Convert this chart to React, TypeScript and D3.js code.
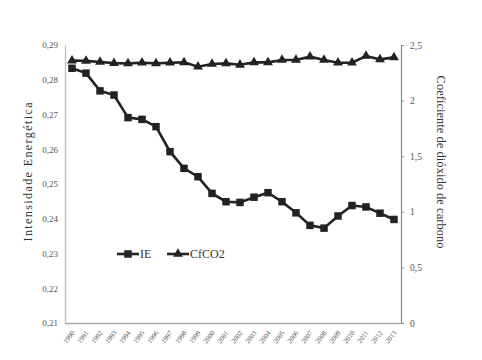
import React, { useRef, useEffect } from "react";
import * as d3 from "d3";

const years = [
  "1990", "1991", "1992", "1993", "1994", "1995", "1996", "1997", "1998", "1999", "2000", "2001",
  "2002", "2003", "2004", "2005", "2006", "2007", "2008", "2009", "2010", "2011", "2012", "2013",
];

// Intensidade Energética (left axis)
const ieValues = [
  0.2833, 0.2819, 0.2768, 0.2756, 0.2691, 0.2686, 0.2665, 0.2593, 0.2545, 0.2521, 0.2473, 0.2449,
  0.2447, 0.2462, 0.2475, 0.2449, 0.2417, 0.2381, 0.2373, 0.2408, 0.2438, 0.2434, 0.2416, 0.2398,
];

// Coeficiente de dióxido de carbono (right axis)
const co2Values = [
  2.36, 2.357, 2.347, 2.337, 2.335, 2.341, 2.335, 2.341, 2.344, 2.305, 2.329, 2.335,
  2.322, 2.344, 2.344, 2.365, 2.365, 2.395, 2.365, 2.341, 2.341, 2.401, 2.371, 2.389,
];

const leftTicks = [0.21, 0.22, 0.23, 0.24, 0.25, 0.26, 0.27, 0.28, 0.29];
const rightTicks = [0, 0.5, 1, 1.5, 2, 2.5];

const fmt = (v: number, digits: number) => v.toFixed(digits).replace(".", ",").replace(/,0$/, "");

function drawChart(el: SVGSVGElement) {
  const left = 65;
  const right = 401;
  const top = 45;
  const bottom = 323;
  const font = "'Liberation Serif', 'DejaVu Serif', serif";

  const svg = d3.select(el);
  svg.selectAll("*").remove();

  const x = d3.scaleBand().domain(years).range([left, right]);
  const cx = (d: string) => (x(d) as number) + x.bandwidth() / 2;
  const yL = d3.scaleLinear().domain([0.21, 0.29]).range([bottom, top]);
  const yR = d3.scaleLinear().domain([0, 2.5]).range([bottom, top]);

  // left axis
  const gl = svg.append("g").attr("transform", `translate(${left},0)`)
    .call(d3.axisLeft(yL).tickValues(leftTicks).tickSize(0).tickPadding(7)
      .tickFormat((d) => fmt(d as number, 2)));
  gl.select(".domain").attr("stroke", "#bdbdbd").attr("stroke-width", 1.3);
  gl.selectAll("text").attr("fill", "#555").style("font-family", font).style("font-size", "9px");

  // right axis
  const gr = svg.append("g").attr("transform", `translate(${right},0)`)
    .call(d3.axisRight(yR).tickValues(rightTicks).tickSize(3).tickPadding(6)
      .tickFormat((d) => fmt(d as number, 1)));
  gr.select(".domain").attr("stroke", "#888").attr("stroke-width", 1.2);
  gr.selectAll("line").attr("stroke", "#888");
  gr.selectAll("text").attr("fill", "#555").style("font-family", font).style("font-size", "9.5px");

  // bottom axis
  const gb = svg.append("g").attr("transform", `translate(0,${bottom})`)
    .call(d3.axisBottom(x).tickSize(0).tickPadding(0));
  gb.select(".domain").attr("stroke", "#aaa").attr("stroke-width", 1.3);
  gb.selectAll("text")
    .attr("fill", "#555")
    .style("font-family", font)
    .style("font-size", "7px")
    .attr("text-anchor", "end")
    .attr("dy", null)
    .attr("y", null)
    .attr("transform", "translate(3,10) rotate(-52)");

  const lineIE = d3.line<number>().x((_, i) => cx(years[i])).y((d) => yL(d));
  const lineCO2 = d3.line<number>().x((_, i) => cx(years[i])).y((d) => yR(d));

  svg.append("path").attr("d", lineCO2(co2Values)).attr("fill", "none")
    .attr("stroke", "#222").attr("stroke-width", 2.6);
  svg.append("path").attr("d", lineIE(ieValues)).attr("fill", "none")
    .attr("stroke", "#222").attr("stroke-width", 2.6);

  const tri = d3.symbol().type(d3.symbolTriangle).size(42);
  const sq = d3.symbol().type(d3.symbolSquare).size(56);

  svg.append("g").selectAll("path").data(co2Values).join("path")
    .attr("d", tri)
    .attr("transform", (d, i) => `translate(${cx(years[i])},${yR(d)})`)
    .attr("fill", "#222");
  svg.append("g").selectAll("path").data(ieValues).join("path")
    .attr("d", sq)
    .attr("transform", (d, i) => `translate(${cx(years[i])},${yL(d)})`)
    .attr("fill", "#222");

  // legend
  const legend = [
    { label: "IE", sym: sq, x: 117 },
    { label: "CfCO2", sym: tri, x: 167 },
  ];
  const ly = 254;
  legend.forEach((l) => {
    const g = svg.append("g");
    g.append("line").attr("x1", l.x).attr("x2", l.x + 22).attr("y1", ly).attr("y2", ly)
      .attr("stroke", "#222").attr("stroke-width", 2.6);
    g.append("path").attr("d", l.sym).attr("transform", `translate(${l.x + 11},${ly})`).attr("fill", "#222");
    g.append("text").attr("x", l.x + 23).attr("y", ly + 4).text(l.label)
      .attr("fill", "#333").style("font-family", font).style("font-size", "12px");
  });

  // axis titles
  svg.append("text")
    .attr("transform", `translate(32,172) rotate(-90)`)
    .attr("text-anchor", "middle")
    .attr("fill", "#333")
    .attr("textLength", 139)
    .style("font-family", font)
    .style("font-size", "12px")
    .text("Intensidade Energética");
  svg.append("text")
    .attr("transform", `translate(437,162) rotate(90)`)
    .attr("text-anchor", "middle")
    .attr("fill", "#333")
    .attr("textLength", 173)
    .style("font-family", font)
    .style("font-size", "12.5px")
    .text("Coeficiente de dióxido de carbono");
}

const App: React.FunctionComponent = function () {
  const ref = useRef<SVGSVGElement>(null);
  useEffect(() => {
    if (ref.current == null) return;
    drawChart(ref.current);
  }, []);
  return (
    <svg
      ref={ref}
      width={482}
      height={360}
      style={{ position: "absolute", left: 0, top: 0, background: "#fff" }}
    />
  );
};

export default App;
